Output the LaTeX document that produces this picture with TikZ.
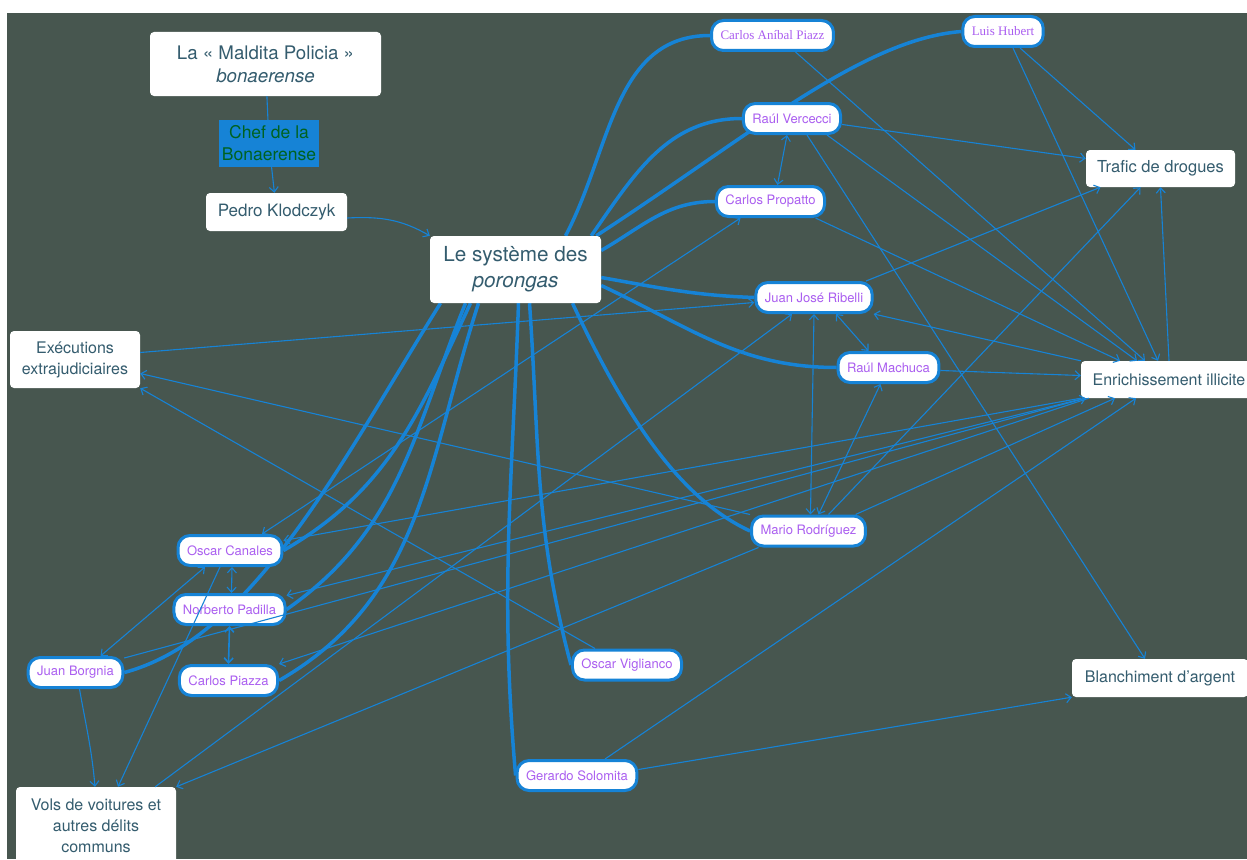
\documentclass[tikz,border=0pt]{standalone}
\usepackage{fontspec}
\setmainfont{TeX Gyre Heros}
\newfontfamily\serifnames{Liberation Serif}
\usetikzlibrary{arrows.meta}

\definecolor{board}{RGB}{71,86,79}
\definecolor{linkblue}{RGB}{22,131,214}
\definecolor{conceptink}{RGB}{52,92,110}
\definecolor{personink}{RGB}{170,94,240}
\definecolor{chefink}{RGB}{0,98,32}

\pgfdeclarelayer{back}
\pgfdeclarelayer{under}
\pgfsetlayers{back,under,main}

\tikzset{
  >={Straight Barb[length=5pt,width=9pt]},
  concept/.style={shape=rectangle, fill=white, rounded corners=4pt, text=conceptink, align=center, inner sep=0pt, font=\fontsize{16}{21}\selectfont},
  person/.style={shape=rectangle, draw=linkblue, line width=3pt, fill=white, rounded corners=12pt, text=personink, inner xsep=9pt, inner ysep=0pt, minimum height=30pt, font=\fontsize{13}{15}\selectfont},
  chefbox/.style={shape=rectangle, fill=linkblue, text=chefink, align=center, inner sep=0pt, font=\fontsize{17.5}{22}\selectfont},
  strong/.style={line width=3.5pt, draw=linkblue, every edge/.append style={-}},
  link/.style={line width=1.1pt, draw=linkblue, every edge/.append style={->}},
  twoway/.style={line width=1.1pt, draw=linkblue, every edge/.append style={<->}},
  plain/.style={line width=1.1pt, draw=linkblue, every edge/.append style={-}}
}

\begin{document}
\begin{tikzpicture}[x=1pt, y=1pt]
\useasboundingbox (0,0) rectangle (1247,-859);
\begin{pgfonlayer}{back}
\fill[white] (0,0) rectangle (1247,-859);
\fill[board] (7,-13) rectangle (1247,-859);
\end{pgfonlayer}

% concepts
\node[concept, font=\fontsize{18.7}{23}\selectfont, minimum width=231pt, minimum height=64pt] (maldita) at (265.5,-64) {La « Maldita Policia »\\\textit{bonaerense}};
\node[chefbox, minimum width=100pt, minimum height=47pt] (chef) at (269,-143.5) {Chef de la\\Bonaerense};
\node[concept, font=\fontsize{17}{21}\selectfont, minimum width=141pt, minimum height=38pt] (pedro) at (276.5,-212) {Pedro Klodczyk};
\node[concept, font=\fontsize{20.7}{26}\selectfont, minimum width=171pt, minimum height=67pt] (systeme) at (515.5,-269.5) {Le système des\\\textit{porongas}};
\node[concept, minimum width=130pt, minimum height=57pt] (executions) at (75,-359.5) {Exécutions\\extrajudiciaires};
\node[concept, font=\fontsize{16.5}{21}\selectfont, minimum width=149pt, minimum height=37pt] (trafic) at (1160.5,-168.5) {Trafic de drogues};
\node[concept, minimum width=176pt, minimum height=37pt] (enrich) at (1169,-379.5) {Enrichissement illicite};
\node[concept, minimum width=176pt, minimum height=38pt] (blanch) at (1160,-678) {Blanchiment d’argent};
\node[concept, minimum width=160pt, minimum height=78pt] (vols) at (96,-826) {Vols de voitures et\\autres délits\\communs};

% persons
\node[person] (anibal) at (772.5,-35.5) {\serifnames Carlos Aníbal Piazz};
\node[person] (hubert) at (1003,-31.5) {\serifnames Luis Hubert};
\node[person] (vercecci) at (792,-118.5) {Raúl Vercecci};
\node[person] (propatto) at (770.5,-201.5) {Carlos Propatto};
\node[person] (ribelli) at (814,-297.5) {Juan José Ribelli};
\node[person] (machuca) at (888.5,-367.5) {Raúl Machuca};
\node[person] (mario) at (808.5,-531) {Mario Rodríguez};
\node[person] (canales) at (230,-550.5) {Oscar Canales};
\node[person] (padilla) at (229.5,-609.5) {Norberto Padilla};
\node[person] (borgnia) at (75.5,-672.5) {Juan Borgnia};
\node[person] (cpiazza) at (228.5,-680.5) {Carlos Piazza};
\node[person] (viglianco) at (627,-665) {Oscar Viglianco};
\node[person] (solomita) at (577,-775.5) {Gerardo Solomita};

% members of the system
\begin{pgfonlayer}{under}
\path [strong] ([xshift=50pt]systeme.north) edge[out=62, in=180] (anibal.west);
\draw [strong] ([xshift=-5pt]systeme.north east) .. controls +(155,101) and +(-100,-8) .. (hubert.west);
\path [strong] ([xshift=-10pt]systeme.north east) edge[out=55, in=180] (vercecci.west);
\path [strong] ([yshift=19pt]systeme.east) edge[out=30, in=180] (propatto.west);
\path [strong] ([yshift=-8pt]systeme.east) edge[out=-10, in=178] (ribelli.west);
\path [strong] ([yshift=-16pt]systeme.east) edge[out=-25, in=180] (machuca.west);
\path [strong] ([xshift=57pt]systeme.south) edge[out=-65, in=155, out looseness=1.3, in looseness=0.6] (mario.west);
\path [strong] ([xshift=14pt]systeme.south) edge[out=-86, in=105] (viglianco.west);
\path [strong] ([xshift=3pt]systeme.south) edge[out=-92, in=95] (solomita.west);
\path [strong] ([xshift=-45pt]systeme.south) edge[out=-115, in=30] (canales.east);
\path [strong] ([xshift=-50pt]systeme.south) edge[out=-112, in=35] (padilla.east);
\path [strong] ([xshift=-37pt]systeme.south) edge[out=-108, in=30] (cpiazza.east);
\path [strong] ([xshift=-75pt]systeme.south) edge[out=-122, in=15, in looseness=0.7] (borgnia.east);
\end{pgfonlayer}

% hierarchy
\path [plain] (maldita) edge (chef);
\path [link] (chef) edge (pedro);
\path [link] ([yshift=-6pt]pedro.east) edge[out=3, in=150] (systeme.north west);

% activities
\path [link] ([xshift=23pt]anibal.south) edge ([xshift=-24pt]enrich.north);
\path [link] ([xshift=17pt]hubert.south) edge ([xshift=-25pt]trafic.north);
\path [link] ([xshift=10pt]hubert.south) edge ([xshift=-11pt]enrich.north);
\path [link] ([yshift=-6pt]vercecci.east) edge ([yshift=10pt]trafic.west);
\path [twoway] ([xshift=-5pt]vercecci.south) edge ([xshift=7pt]propatto.north);
\path [link] ([xshift=35pt]vercecci.south) edge ([xshift=-32pt]enrich.north);
\path [link] ([xshift=15pt]vercecci.south) edge ([xshift=-15pt]blanch.north);
\path [link] ([xshift=45pt]propatto.south) edge ([xshift=-49pt]enrich.north);
\path [twoway] ([xshift=-30pt]propatto.south) edge ([xshift=32pt]canales.north);
\path [link] ([yshift=7pt]executions.east) edge ([yshift=-5pt]ribelli.west);
\path [link] ([xshift=52pt]ribelli.north) edge ([xshift=-60pt]trafic.south);
\path [twoway] ([xshift=22pt]ribelli.south) edge ([xshift=-20pt]machuca.north);
\path [link] (enrich.north west) edge (ribelli.south east);
\path [link] ([yshift=-3pt]machuca.east) edge ([yshift=4pt]enrich.west);
\path [twoway] ([xshift=2pt]mario.north) edge (ribelli.south);
\path [twoway] ([xshift=10pt]mario.north) edge ([xshift=-8pt]machuca.south);
\path [link] ([xshift=20pt]mario.north) edge ([xshift=-20pt]trafic.south);
\path [link] ([xshift=47pt]mario.north) edge ([xshift=-54pt]enrich.south);
\path [link] (mario.north west) edge ([yshift=-14pt]executions.east);
\path [link] ([xshift=-50pt]mario.south) edge (vols.north east);
\path [link] ([xshift=-32pt]viglianco.north) edge (executions.south east);
\path [link] ([xshift=28pt]solomita.north) edge ([xshift=-33pt]enrich.south);
\path [link] ([yshift=6pt]solomita.east) edge (blanch.south west);
\path [link] ([xshift=-21pt]vols.north east) edge ([xshift=-22pt]ribelli.south);
\path [link] (enrich.south west) edge ([yshift=10pt]canales.east);
\path [link] ([xshift=4pt]enrich.south west) edge ([yshift=14pt]padilla.east);
\path [link] ([xshift=8pt]enrich.south west) edge (cpiazza.north east);
\path [link] ([yshift=-2pt]borgnia.north east) edge ([xshift=5pt]enrich.south west);
\path [link] ([xshift=4pt]borgnia.south) edge[out=-80, in=95] ([xshift=-1pt]vols.north);
\path [link] ([xshift=-10pt]canales.south) edge ([xshift=22pt]vols.north);
\path [twoway] ([xshift=-25pt]canales.south) edge ([xshift=25pt]borgnia.north);
\path [twoway] ([xshift=2pt]canales.south) edge ([xshift=2pt]padilla.north);
\path [twoway, line width=1.6pt] (padilla.south) edge (cpiazza.north);
\path [link] (enrich.north) edge (trafic.south);
\end{tikzpicture}
\end{document}
